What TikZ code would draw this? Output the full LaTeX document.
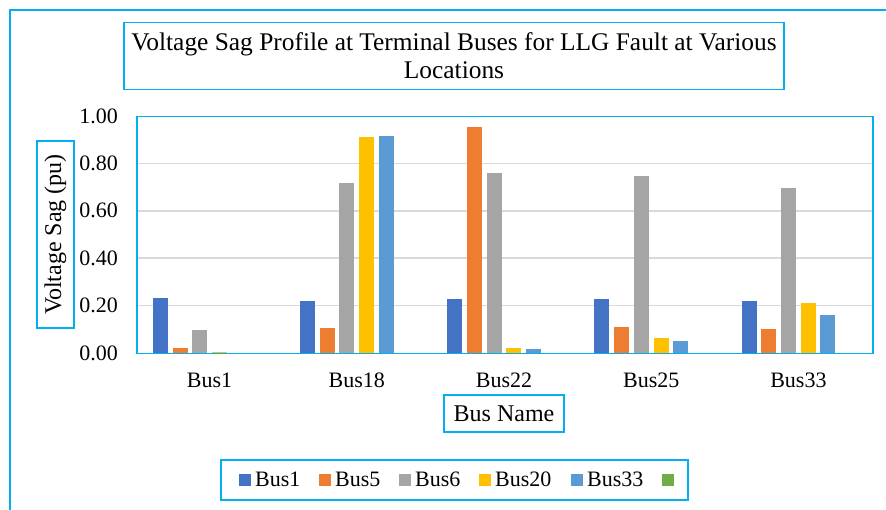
\documentclass[tikz,border=0pt]{standalone}
\usepackage{fontspec}
\setmainfont{Liberation Serif}
\definecolor{skyb}{HTML}{00B0F0}
\definecolor{gridc}{HTML}{D9D9D9}
\definecolor{ser0}{HTML}{4472C4}
\definecolor{ser1}{HTML}{ED7D31}
\definecolor{ser2}{HTML}{A5A5A5}
\definecolor{ser3}{HTML}{FFC000}
\definecolor{ser4}{HTML}{5B9BD5}
\definecolor{ser5}{HTML}{70AD47}
\tikzset{
  frame/.style={draw=skyb, line width=1.5pt},
  boxed/.style={frame, inner sep=0pt, fill=white},
  gridline/.style={draw=gridc, line width=1.5pt},
  ticklbl/.style={font=\fontsize{22}{26}\selectfont, inner sep=0pt},
  axtitle/.style={font=\fontsize{24}{28}\selectfont},
}
\begin{document}
\begin{tikzpicture}[x=1pt,y=-1pt]
\useasboundingbox (0,0) rectangle (886,510);
% outer chart border
\draw[frame] (10,512) -- (10,10) -- (888,10);

% title
\node[boxed, minimum width=660pt, minimum height=67pt, align=center,
      font=\fontsize{25.4}{28}\selectfont] (title) at (454,56)
  {Voltage Sag Profile at Terminal Buses for LLG Fault at Various\\Locations};

% horizontal gridlines
\foreach \v in {0.2,0.4,0.6,0.8}
  \draw[gridline] (136,{353-237*\v}) -- (872,{353-237*\v});

% clustered bars: one list per category, one value per series
\foreach \vals [count=\g from 0] in {
    {0.230,0.022,0.097,0.003,0.002,0},
    {0.218,0.104,0.717,0.913,0.916,0},
    {0.229,0.952,0.761,0.020,0.016,0},
    {0.227,0.111,0.745,0.065,0.049,0},
    {0.218,0.103,0.695,0.210,0.159,0}} {
  \foreach \v [count=\i from 0] in \vals {
    \pgfmathsetmacro\xl{136+147.2*(\g+0.5)-56.75+19.7*\i}
    \fill[ser\i] (\xl,353) rectangle ({\xl+15},{353-237*\v});
  }
}

% plot area border
\node[frame, inner sep=0pt, minimum width=736pt, minimum height=237pt,
      anchor=north west] (plot) at (136,116) {};

% value axis labels
\foreach \v/\t [count=\k from 0] in {0/0.00,0.2/0.20,0.4/0.40,0.6/0.60,0.8/0.80,1/1.00}
  \node[ticklbl, anchor=east] (tick\k) at (118,{353-237*\v}) {\t};

% category labels
\foreach \c [count=\g from 0] in {Bus1,Bus18,Bus22,Bus25,Bus33}
  \node[ticklbl, anchor=base] (cat\g) at ({136+147.2*(\g+0.5)},388) {\c};

% axis titles
\node[boxed, axtitle, rotate=90, minimum width=187pt, minimum height=37pt]
  (ylab) at (55.5,234.5) {Voltage Sag (pu)};
\node[boxed, axtitle, minimum width=120pt, minimum height=37pt]
  (xlab) at (504,413.5) {Bus Name};

% legend
\node[boxed, minimum width=467pt, minimum height=40pt] (legend) at (454.5,480) {};
\foreach \x/\t [count=\i from 0] in {239/Bus1,319/Bus5,399/Bus6,479/Bus20,571/Bus33,662/{}} {
  \fill[ser\i] (\x,474) rectangle ({\x+12},486);
  \node[ticklbl, anchor=base west] (leg\i) at ({\x+16},486) {\t};
}
\end{tikzpicture}
\end{document}
